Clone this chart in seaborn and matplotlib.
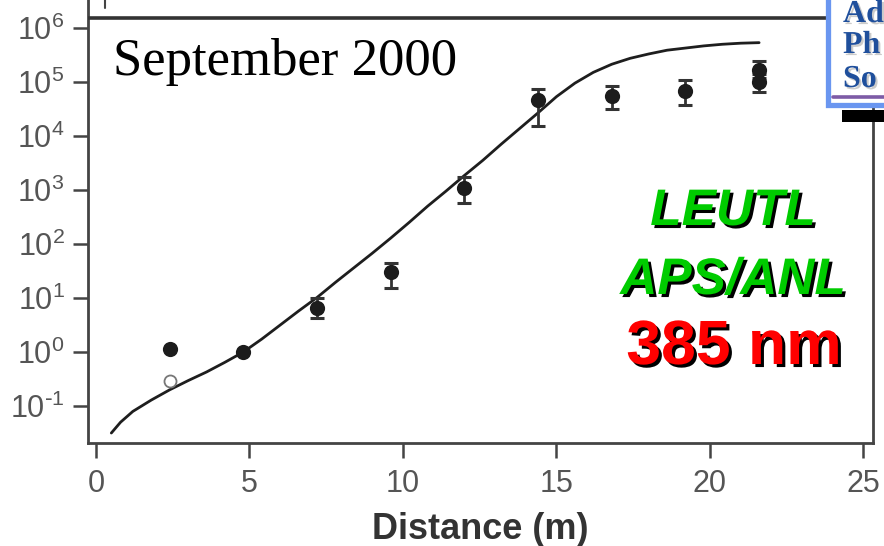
import numpy as np
import pandas as pd
import seaborn as sns
import matplotlib.pyplot as plt
from matplotlib import patheffects as pe
from matplotlib.patches import Rectangle
from matplotlib.lines import Line2D

# Model curve: distance (m) vs. log10 of the output
curve_x = [0.5, 0.8, 1.2, 1.8, 2.4, 3.0, 3.6, 4.2, 4.8, 5.4, 6.0, 6.6, 7.2, 7.8,
           8.4, 9.0, 9.6, 10.2, 10.8, 11.4, 12.0, 12.6, 13.2, 13.8, 14.4, 15.0,
           15.6, 16.2, 16.8, 17.4, 18.0, 18.6, 19.2, 19.8, 20.4, 21.0, 21.6]
curve_log = [-1.50, -1.30, -1.10, -0.89, -0.70, -0.53, -0.37, -0.19, 0.00, 0.24,
             0.50, 0.76, 1.01, 1.29, 1.56, 1.83, 2.11, 2.40, 2.70, 2.98, 3.27,
             3.55, 3.85, 4.14, 4.43, 4.73, 4.98, 5.18, 5.33, 5.44, 5.52, 5.59,
             5.63, 5.67, 5.70, 5.72, 5.73]

# Measured points (filled)
meas_x = [2.4, 4.8, 7.2, 9.6, 12.0, 14.4, 16.8, 19.2, 21.6, 21.6]
meas_y = [1.12, 1.0, 6.5, 30, 1100, 47000, 55000, 68000, 170000, 100000]
err_lo = [None, None, 4.3, 15.5, 575, 15500, 31600, 37000, 120000, 65000]
err_hi = [None, None, 10.0, 45, 1740, 74000, 85000, 110000, 245000, 140000]

# Corrected value at the first station (open marker)
open_x = [2.4]
open_y = [0.29]

y_ticks = [-1, 0, 1, 2, 3, 4, 5, 6]
x_ticks = [0, 5, 10, 15, 20, 25]

sns.set_theme(style="ticks")
plt.rcParams['font.family'] = ['Liberation Sans', 'DejaVu Sans']
plt.rcParams['mathtext.default'] = 'regular'

W, H = 884, 546
fig = plt.figure(figsize=(W / 100, H / 100), dpi=100)
ax = fig.add_axes([88 / W, 103 / H, 785 / W, 443 / H])
ax.set_yscale('log')
ax.set_xlim(-0.26, 25.31)
ax.set_ylim(10 ** -1.685, 10 ** 6.52)

curve = pd.DataFrame({"x": curve_x, "y": 10 ** np.array(curve_log)})
sns.lineplot(data=curve, x="x", y="y", ax=ax, color='#1e1e1e', lw=2.0,
             estimator=None, sort=False, zorder=2)

meas = pd.DataFrame({"x": meas_x, "y": meas_y, "lo": err_lo, "hi": err_hi})
eb = meas.dropna()
ax.errorbar(eb["x"], eb["y"],
            yerr=[eb["y"] - eb["lo"], eb["hi"] - eb["y"]],
            fmt='none', ecolor='#333333', elinewidth=2.0,
            capsize=5.0, capthick=2.2, zorder=3)
sns.scatterplot(data=meas, x="x", y="y", ax=ax, s=120, color='#1c1c1c',
                edgecolor='#1c1c1c', linewidth=0, zorder=4, legend=False)
sns.scatterplot(x=open_x, y=open_y, ax=ax, s=75, facecolor='white',
                edgecolor='#777777', linewidth=1.3, zorder=4, legend=False)

# top frame line
ax.axhline(10 ** 6.19, color='#333333', lw=2.6, zorder=5)


def sci_label(k):
    exp = r'\text{-}%d' % -k if k < 0 else '%d' % k
    return r'$10^{%s}$' % exp


ax.set_xticks(x_ticks)
ax.set_xticklabels([str(t) for t in x_ticks])
ax.set_yticks([10.0 ** k for k in y_ticks])
ax.set_yticklabels([sci_label(k) for k in y_ticks])
ax.minorticks_off()
ax.tick_params(axis='both', direction='out', length=10.8, width=1.8,
               color='#444444', labelsize=22, labelcolor='#555555')
ax.tick_params(axis='x', pad=8)
ax.tick_params(axis='y', pad=6)
for side in ('left', 'bottom', 'right'):
    ax.spines[side].set_color('#444444')
    ax.spines[side].set_linewidth(2.0)
ax.spines['top'].set_visible(False)
ax.set_xlabel('Distance (m)', fontsize=26, fontweight='bold', color='#333333',
              labelpad=9)
ax.set_ylabel('')

fig.text(113 / W, 1 - 75 / H, 'September 2000', family='Liberation Serif',
         fontsize=38, color='black', va='baseline', ha='left')

shadow = [pe.SimplePatchShadow(offset=(2.2, -2.2), shadow_rgbFace='black',
                               alpha=1.0), pe.Normal()]
fig.text(733 / W, 1 - 225 / H, 'LEUTL', fontsize=37, fontweight='bold',
         style='italic', color='#00cc00', ha='center', va='baseline',
         path_effects=shadow)
fig.text(733 / W, 1 - 294 / H, 'APS/ANL', fontsize=37, fontweight='bold',
         style='italic', color='#00cc00', ha='center', va='baseline',
         path_effects=shadow)
fig.text(734 / W, 1 - 364 / H, '385 nm', fontsize=45, fontweight='bold',
         color='#ff0000', ha='center', va='baseline', path_effects=shadow)

# Advanced Photon Source logo box (cut by the right edge)
fig.patches.append(Rectangle((828 / W, 1 - 105 / H), 80 / W, 120 / H,
                             transform=fig.transFigure, facecolor='white',
                             edgecolor='#6a96f0', lw=3.8, zorder=6))
fig.patches.append(Rectangle((842 / W, 1 - 122 / H), 50 / W, 12 / H,
                             transform=fig.transFigure, facecolor='black',
                             edgecolor='none', zorder=6))
logo_shadow = [pe.SimplePatchShadow(offset=(1.5, -1.5), shadow_rgbFace='#999999',
                                    alpha=0.5), pe.Normal()]
for word, base in (('Ad', 22), ('Ph', 53), ('So', 87)):
    fig.text(843 / W, 1 - base / H, word, family='Liberation Serif',
             fontweight='bold', fontsize=23, color='#1f4f9c', ha='left',
             va='baseline', zorder=7, path_effects=logo_shadow)
fig.lines.append(Line2D([833 / W, 1.0], [1 - 97 / H, 1 - 97 / H],
                        transform=fig.transFigure, color='#7d5ba6', lw=2.6,
                        zorder=7))
fig.lines.append(Line2D([105 / W, 105 / W], [1.0, 1 - 8 / H],
                        transform=fig.transFigure, color='#444444', lw=1.5))

fig.savefig('out.png', dpi=100)
